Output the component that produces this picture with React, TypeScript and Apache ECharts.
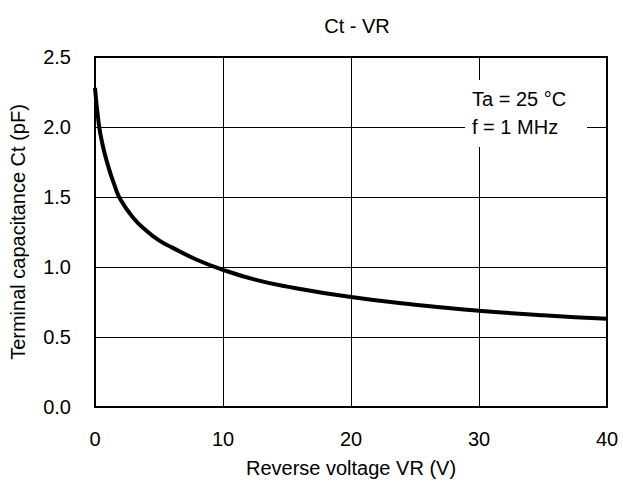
import React, { useEffect, useRef } from "react";
import * as echarts from "echarts";

const voltage = [0, 0.3, 0.6, 1, 1.5, 2, 3, 4, 5, 6, 8, 10, 12.5, 15, 20, 25, 30, 35, 40];
const capacitance = [2.28, 2.02, 1.87, 1.73, 1.59, 1.48, 1.35, 1.26, 1.19, 1.14, 1.05, 0.98, 0.91, 0.86, 0.785, 0.73, 0.688, 0.655, 0.63];
const xTicks = [0, 10, 20, 30, 40];
const yTicks = [0, 0.5, 1.0, 1.5, 2.0, 2.5];
const notes = ["Ta = 25 °C", "f = 1 MHz"];

const FONT = "Liberation Sans, Arial, sans-serif";

export default function App() {
  const ref = useRef<HTMLDivElement>(null);
  useEffect(() => {
    if (!ref.current) return;
    const chart = echarts.init(ref.current, undefined, { renderer: "svg" });
    const data = voltage.map((v, i) => [v, capacitance[i]]);
    chart.setOption({
      animation: false,
      backgroundColor: "#ffffff",
      title: {
        text: "Ct - VR",
        left: 352,
        top: 11,
        textAlign: "center",
        textStyle: { fontFamily: FONT, fontSize: 20, fontWeight: "normal", color: "#000" },
      },
      grid: { left: 95, right: 16, top: 57, bottom: 77 },
      xAxis: {
        type: "value",
        min: xTicks[0],
        max: xTicks[xTicks.length - 1],
        interval: 10,
        name: "Reverse voltage VR (V)",
        nameLocation: "middle",
        nameGap: 51,
        nameTextStyle: { fontFamily: FONT, fontSize: 20, color: "#000" },
        axisLine: { show: true, lineStyle: { color: "#000", width: 2 } },
        axisTick: { show: false },
        axisLabel: { fontFamily: FONT, fontSize: 20, color: "#000", margin: 22 },
        splitLine: { show: true, lineStyle: { color: "#000", width: 1 } },
      },
      yAxis: {
        type: "value",
        min: yTicks[0],
        max: yTicks[yTicks.length - 1],
        interval: 0.5,
        name: "Terminal capacitance Ct (pF)",
        nameLocation: "middle",
        nameGap: 67,
        nameTextStyle: { fontFamily: FONT, fontSize: 20, color: "#000" },
        axisLine: { show: true, lineStyle: { color: "#000", width: 2 } },
        axisTick: { show: false },
        axisLabel: {
          fontFamily: FONT,
          fontSize: 20,
          color: "#000",
          margin: 24,
          formatter: (v: number) => v.toFixed(1),
        },
        splitLine: { show: true, lineStyle: { color: "#000", width: 1 } },
      },
      graphic: [
        {
          type: "rect",
          shape: { x: 465, y: 80, width: 122, height: 67 },
          style: { fill: "#fff" },
          z: 10,
        },
        {
          type: "text",
          x: 472,
          y: 99,
          style: { text: notes[0], font: `20px ${FONT}`, fill: "#000", verticalAlign: "middle" },
          z: 11,
        },
        {
          type: "text",
          x: 472,
          y: 127,
          style: { text: notes[1], font: `20px ${FONT}`, fill: "#000", verticalAlign: "middle" },
          z: 11,
        },
        {
          type: "rect",
          shape: { x: 95, y: 57, width: 512, height: 350 },
          style: { fill: "none", stroke: "#000", lineWidth: 2 },
          z: 12,
        },
      ],
      series: [
        {
          type: "line",
          data,
          smooth: 0.5,
          showSymbol: false,
          lineStyle: { color: "#000", width: 4 },
          z: 5,
        },
      ],
    });
    return () => chart.dispose();
  }, []);
  return <div ref={ref} style={{ width: 623, height: 484, position: "absolute", left: 0, top: 0 }} />;
}
